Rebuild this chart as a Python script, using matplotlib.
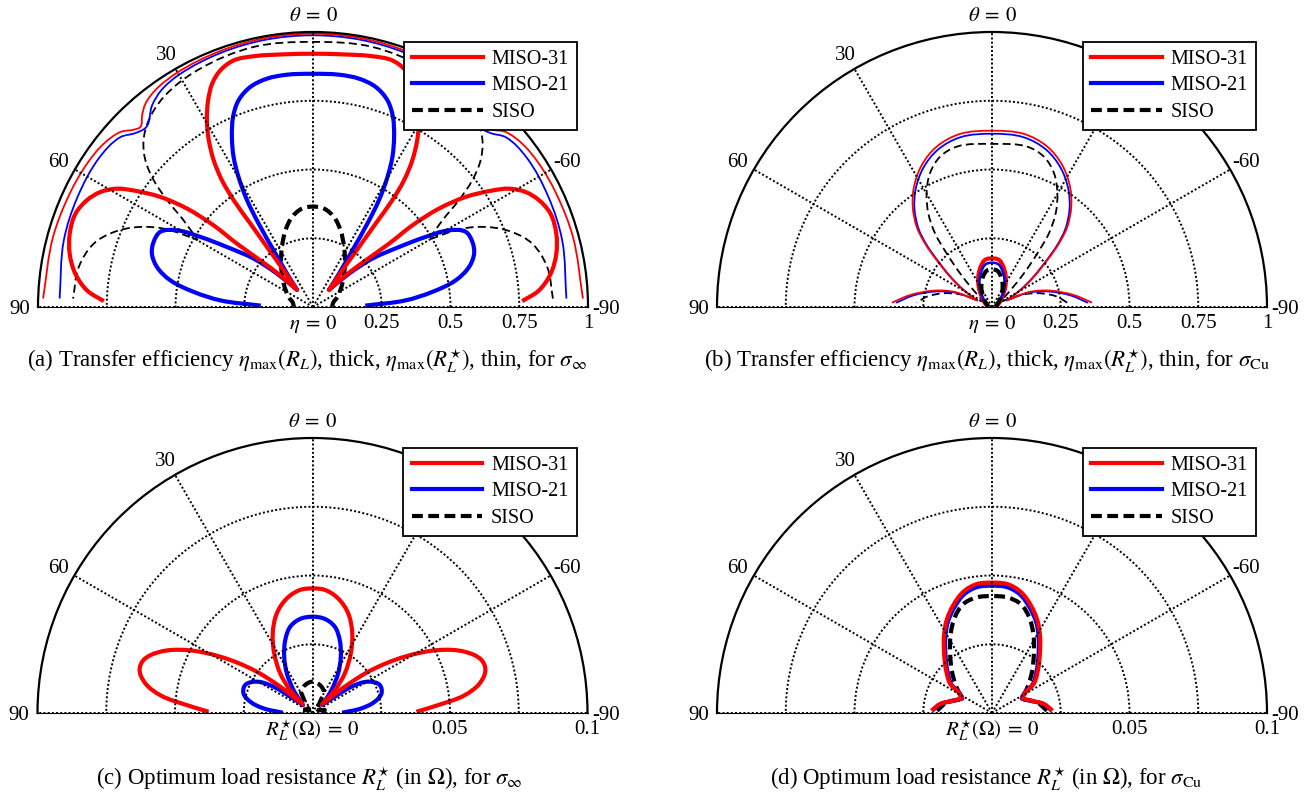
import numpy as np
import matplotlib
matplotlib.use('Agg')
import matplotlib.pyplot as plt
from matplotlib.transforms import offset_copy
from matplotlib.lines import Line2D
from matplotlib.path import Path
from matplotlib.patches import PathPatch

plt.rcParams['font.family'] = 'serif'
plt.rcParams['font.serif'] = ['Liberation Serif', 'DejaVu Serif']
plt.rcParams['mathtext.fontset'] = 'stix'

# ---------------- data: theta in degrees (0..90), curves symmetric in theta ----------------
# (a) transfer efficiency, sigma_inf
a_m31_th = [0, 5.9, 13.3, 17.8, 21.4, 24.3, 26.9, 29.6, 32.0, 34.1, 35.7, 36.6, 36.9, 37.5, 38.7, 41.0, 43.0,
            45.9, 48.5, 50.2, 50.6, 52.0, 54.2, 57.0, 58.9, 61.6, 64.7, 68.6, 73.2, 77.6, 82.0, 85.8, 88.4]
a_m31_r = [0.921, 0.924, 0.937, 0.942, 0.924, 0.891, 0.843, 0.781, 0.715, 0.644, 0.567, 0.483, 0.379, 0.275, 0.171, 0.11, 0.085,
           0.165, 0.256, 0.360, 0.468, 0.581, 0.684, 0.778, 0.833, 0.879, 0.909, 0.928, 0.924, 0.906, 0.873, 0.824, 0.761]
a_m21_th = [0, 6.4, 11.4, 15.9, 19.8, 22.8, 25.5, 27.9, 29.8, 31.7, 33.1, 34.8, 37.9, 43.0,
            47.2, 50.8, 55.1, 58.1, 60.6, 63.8, 67.8, 71.7, 75.6, 79.4, 82.8, 85.9, 88.5]
a_m21_r = [0.848, 0.850, 0.847, 0.832, 0.799, 0.750, 0.685, 0.617, 0.545, 0.456, 0.362, 0.251, 0.154, 0.085,
           0.178, 0.278, 0.381, 0.482, 0.568, 0.619, 0.626, 0.617, 0.586, 0.528, 0.437, 0.338, 0.190]
a_siso_th = [0, 6.4, 13.1, 19.8, 27.3, 36.4, 51.5, 67.7, 78, 89]
a_siso_r = [0.365, 0.360, 0.336, 0.296, 0.246, 0.196, 0.136, 0.096, 0.075, 0.07]
a_m31s_th = [0, 10, 20, 30, 36, 39.5, 41.7, 43.8, 45.3, 47.7, 52.0, 57.6, 65, 75, 88.2]
a_m31s_r = [0.994, 0.993, 0.990, 0.985, 0.975, 0.958, 0.934, 0.907, 0.917, 0.946, 0.965, 0.973, 0.976, 0.979, 0.982]
a_m21s_th = [0, 10, 20, 30, 35, 38.6, 42.8, 45.6, 48.6, 55, 65, 75, 88.1]
a_m21s_r = [0.988, 0.987, 0.983, 0.975, 0.962, 0.938, 0.892, 0.904, 0.934, 0.948, 0.945, 0.938, 0.922]
a_sisos_th = [0, 12.8, 26.1, 35.4, 41.4, 45.5, 48.8, 51.5, 53.8, 56.2, 59.8, 62.3, 65.6, 69.4, 73.9, 80.3, 88.0]
a_sisos_r = [0.964, 0.970, 0.958, 0.937, 0.904, 0.864, 0.810, 0.740, 0.657, 0.566, 0.486, 0.613, 0.703, 0.774, 0.830, 0.864, 0.873]

# (b) transfer efficiency, sigma_Cu
b_m31_th = [0, 8.5, 15.7, 24.3, 33.3, 45, 60, 75, 90]
b_m31_r = [0.177, 0.173, 0.152, 0.121, 0.088, 0.053, 0.030, 0.020, 0.015]
b_m21_th = [0, 8.5, 15.7, 24.3, 33.3, 45, 60, 75, 90]
b_m21_r = [0.161, 0.157, 0.138, 0.110, 0.080, 0.048, 0.027, 0.018, 0.013]
b_siso_th = [0, 8.5, 15.7, 24.3, 33.3, 45, 60, 75, 90]
b_siso_r = [0.137, 0.133, 0.117, 0.093, 0.068, 0.041, 0.023, 0.015, 0.011]
b_m31s_th = [0, 10.5, 19.0, 26.3, 33.0, 38.3, 43.2, 46.5, 49.7, 54.2, 59.3, 63.5, 66.0, 68.4, 74.4, 81.7, 87.5]
b_m31s_r = [0.641, 0.640, 0.617, 0.576, 0.521, 0.465, 0.400, 0.336, 0.264, 0.188, 0.121, 0.075, 0.06, 0.151, 0.221, 0.301, 0.364]
b_m21s_th = [0, 10.5, 19.0, 26.3, 33.0, 38.3, 43.2, 46.5, 49.7, 54.2, 59.3, 63.5, 66.0, 68.4, 74.4, 81.7, 87.5]
b_m21s_r = [0.630, 0.628, 0.605, 0.564, 0.510, 0.455, 0.390, 0.327, 0.256, 0.182, 0.116, 0.072, 0.058, 0.140, 0.210, 0.290, 0.349]
b_sisos_th = [0, 12.4, 19.1, 24.9, 29.9, 34.2, 37.7, 40.2, 43.5, 47.7, 56.0, 60.0, 65.0, 68.4, 74.3, 81.0, 86.7]
b_sisos_r = [0.593, 0.597, 0.578, 0.536, 0.477, 0.412, 0.339, 0.256, 0.169, 0.092, 0.045, 0.040, 0.075, 0.125, 0.184, 0.240, 0.274]

# (c) optimum load resistance (Ohm), sigma_inf
c_m31_th = [0, 5.7, 12.6, 19.7, 26.5, 32.7, 39.2, 44.2, 48.2, 50.8, 53.9, 58.6, 63.4, 68.1, 72.6, 76.0, 79.9, 83.3, 86.4, 89.3]
c_m31_r = [0.0453, 0.0450, 0.0427, 0.0385, 0.0324, 0.0258, 0.0186, 0.0117, 0.0047, 0.0152, 0.0265, 0.0393, 0.0511,
           0.0597, 0.0644, 0.0648, 0.0618, 0.0558, 0.0458, 0.0378]
c_m21_th = [0, 7.5, 14.5, 20.5, 26.7, 32.9, 39.6, 47.8, 49.5, 53.8, 56.0, 60.6, 67.4, 74.1, 79.7, 84.6, 89.4]
c_m21_r = [0.0350, 0.0345, 0.0324, 0.0283, 0.0229, 0.0172, 0.0108, 0.0052, 0.0045, 0.0100, 0.0171, 0.0232, 0.0265,
           0.0261, 0.0230, 0.0179, 0.0108]
c_siso_th = [0, 15, 28, 30.6, 40, 50, 60, 76, 89]
c_siso_r = [0.0114, 0.0105, 0.0088, 0.0069, 0.0030, 0.0015, 0.0020, 0.0046, 0.0040]

# (d) optimum load resistance (Ohm), sigma_Cu
d_m31_th = [0, 6.8, 13.3, 19.7, 26.0, 32.2, 38.8, 46.9, 54.8, 59.0, 64.2, 72.3, 80.2, 87.8]
d_m31_r = [0.0474, 0.0472, 0.0453, 0.0417, 0.0376, 0.0328, 0.0278, 0.0229, 0.0187, 0.0139, 0.0122, 0.0148, 0.0192, 0.0220]
d_m21_th = [0, 6.8, 13.3, 19.7, 26.0, 32.2, 38.8, 46.9, 54.8, 59.0, 64.2, 72.3, 80.2, 87.8]
d_m21_r = [0.0463, 0.0461, 0.0443, 0.0407, 0.0367, 0.0319, 0.0270, 0.0222, 0.0181, 0.0135, 0.0120, 0.0146, 0.0190, 0.0218]
d_siso_th = [0, 7.6, 14.7, 21.0, 27.4, 35.1, 43.2, 51.3, 60.6, 65.0, 77.0, 87.6]
d_siso_r = [0.0425, 0.0424, 0.0410, 0.0375, 0.0326, 0.0265, 0.0214, 0.0172, 0.0133, 0.0120, 0.0169, 0.0200]

legend_labels = ['MISO-31', 'MISO-21', 'SISO']
theta_ticks = [90, 60, 30, 0, -30, -60, -90]
theta_labels = ['90', '60', '30', r'$\theta\:=\:0$', '-30', '-60', '-90']
eta_ticks = [0, 0.25, 0.5, 0.75, 1]
eta_labels = [r'$\eta\:=\:0$', '0.25', '0.5', '0.75', '1']
res_ticks = [0, 0.05, 0.1]
res_labels = [r'$R_L^{\star}(\Omega)\:=\:0$', '0.05', '0.1']
captions = [r'(a) Transfer efficiency $\eta_{\max}(R_L)$, thick, $\eta_{\max}(R_L^{\star})$, thin, for $\sigma_{\infty}$',
            r'(b) Transfer efficiency $\eta_{\max}(R_L)$, thick, $\eta_{\max}(R_L^{\star})$, thin, for $\sigma_{\rm Cu}$',
            r'(c) Optimum load resistance $R_L^{\star}$ (in $\Omega$), for $\sigma_{\infty}$',
            r'(d) Optimum load resistance $R_L^{\star}$ (in $\Omega$), for $\sigma_{\rm Cu}$']

# ---------------- drawing ----------------
W, H = 1307, 796
fig = plt.figure(figsize=(W / 100, H / 100), dpi=100)
R = 275
centers = [(313, 307), (992, 307), (312.5, 713), (992, 713)]

THICK, THIN = 3.0, 1.3
DASH_THICK = (0, (2.6, 1.3))
DASH_THIN = (0, (4.4, 2.4))
GRID_LS = (0, (1, 1.15))


def full(th, r):
    """Symmetric curve over -90..90 deg from the 0..90 deg half."""
    th = np.asarray(th, float)
    r = np.asarray(r, float)
    t = np.concatenate([-th[::-1], th[1:]])
    rr = np.concatenate([r[::-1], r[1:]])
    return np.deg2rad(t), rr


def smooth_polar_path(theta, r, corner_cos=0.3):
    """Cubic Bezier path through the data points (smooth rendering, corners kept sharp)."""
    P = np.column_stack([r * np.sin(theta), r * np.cos(theta)])
    n = len(P)
    U = np.zeros_like(P)
    corner = np.zeros(n, bool)
    for i in range(n):
        if i == 0 or i == n - 1:
            corner[i] = True
            continue
        d1 = P[i] - P[i - 1]
        d2 = P[i + 1] - P[i]
        n1, n2 = np.hypot(*d1), np.hypot(*d2)
        if n1 == 0 or n2 == 0 or np.dot(d1, d2) / (n1 * n2) < corner_cos:
            corner[i] = True
            continue
        t = d1 / n1 + d2 / n2
        U[i] = t / np.hypot(*t)
    verts = [P[0]]
    codes = [Path.MOVETO]
    for i in range(n - 1):
        seg = P[i + 1] - P[i]
        L = np.hypot(*seg)
        u0 = seg / L if corner[i] else U[i]
        u1 = seg / L if corner[i + 1] else U[i + 1]
        verts += [P[i] + u0 * L / 3, P[i + 1] - u1 * L / 3, P[i + 1]]
        codes += [Path.CURVE4] * 3
    V = np.array(verts)
    th = np.arctan2(V[:, 0], V[:, 1])
    rr = np.hypot(V[:, 0], V[:, 1])
    return Path(np.column_stack([th, rr]), codes)


def curve(ax, th, r, color, lw, ls='-'):
    t, rr = full(th, r)
    patch = PathPatch(smooth_polar_path(t, rr), transform=ax.transData, fill=False,
                      edgecolor=color, linewidth=lw, linestyle=ls, capstyle='butt', joinstyle='round')
    ax.add_patch(patch)


def make_ax(cx, cy, rmax, rgrid, rticks, rlabels):
    # matplotlib pads the half-disc wedge to a square: square of side 2R, half-disc in its middle band
    left = cx - R
    bottom_px = cy + R / 2.0
    ax = fig.add_axes([left / W, 1 - bottom_px / H, 2 * R / W, 2 * R / H], projection='polar')
    ax.set_theta_zero_location('N')
    ax.set_theta_direction(1)
    ax.set_thetamin(-90)
    ax.set_thetamax(90)
    ax.set_ylim(0, rmax)
    ax.set_xticks(np.deg2rad([-90, -60, -30, 0, 30, 60, 90]))
    ax.set_yticks(rgrid)
    ax.set_xticklabels([])
    ax.set_yticklabels([])
    ax.tick_params(length=0)
    ax.grid(True, color='k', linestyle=GRID_LS, linewidth=1.4)
    for s in ['start', 'end', 'inner']:
        ax.spines[s].set_visible(False)
    ax.spines['polar'].set_linewidth(1.6)
    ax.patch.set_alpha(0)
    for a, lab in zip(theta_ticks, theta_labels):
        ax.text(np.deg2rad(a), 1.067 * rmax, lab, ha='center', va='center_baseline', fontsize=15)
    tr = offset_copy(ax.transData, fig=fig, x=0, y=-17, units='dots')
    for v, lab in zip(rticks, rlabels):
        ax.text(np.deg2rad(-90), v, lab, transform=tr, ha='center', va='center', fontsize=15)
    return ax


def add_legend(ax, cx, cy):
    handles = [Line2D([], [], color='r', lw=THICK),
               Line2D([], [], color='b', lw=THICK),
               Line2D([], [], color='k', lw=THICK, linestyle=DASH_THICK)]
    leg = ax.legend(handles, legend_labels, loc='upper right',
                    bbox_to_anchor=((cx + 264) / W, 1 - (cy - 265) / H),
                    bbox_transform=fig.transFigure, borderaxespad=0, fontsize=14.5,
                    frameon=True, fancybox=False, framealpha=1, edgecolor='k',
                    handlelength=3.5, handletextpad=0.45, labelspacing=0.36, borderpad=0.4)
    leg.get_frame().set_linewidth(1.3)
    leg.set_zorder(10)


# (a)
ax = make_ax(*centers[0], 1.0, [0.25, 0.5, 0.75], eta_ticks, eta_labels)
curve(ax, a_sisos_th, a_sisos_r, 'k', THIN, DASH_THIN)
curve(ax, a_m21s_th, a_m21s_r, 'b', THIN)
curve(ax, a_m31s_th, a_m31s_r, 'r', THIN)
curve(ax, a_siso_th, a_siso_r, 'k', THICK, DASH_THICK)
curve(ax, a_m21_th, a_m21_r, 'b', THICK)
curve(ax, a_m31_th, a_m31_r, 'r', THICK)
add_legend(ax, *centers[0])

# (b)
ax = make_ax(*centers[1], 1.0, [0.25, 0.5, 0.75], eta_ticks, eta_labels)
curve(ax, b_sisos_th, b_sisos_r, 'k', THIN, DASH_THIN)
curve(ax, b_m21s_th, b_m21s_r, 'b', THIN)
curve(ax, b_m31s_th, b_m31s_r, 'r', THIN)
curve(ax, b_m31_th, b_m31_r, 'r', THICK)
curve(ax, b_m21_th, b_m21_r, 'b', THICK * 0.6)
curve(ax, b_siso_th, b_siso_r, 'k', THICK, DASH_THICK)
add_legend(ax, *centers[1])

# (c)
ax = make_ax(*centers[2], 0.1, [0.025, 0.05, 0.075], res_ticks, res_labels)
curve(ax, c_siso_th, c_siso_r, 'k', THICK, DASH_THICK)
curve(ax, c_m21_th, c_m21_r, 'b', THICK)
curve(ax, c_m31_th, c_m31_r, 'r', THICK)
add_legend(ax, *centers[2])

# (d)
ax = make_ax(*centers[3], 0.1, [0.025, 0.05, 0.075], res_ticks, res_labels)
curve(ax, d_siso_th, d_siso_r, 'k', THICK, DASH_THICK)
curve(ax, d_m21_th, d_m21_r, 'b', THICK)
curve(ax, d_m31_th, d_m31_r, 'r', THICK)
add_legend(ax, *centers[3])

# captions
cap_pos = [(307, 367), (987, 367), (309, 785), (986, 785)]
for (x, y), txt in zip(cap_pos, captions):
    fig.text(x / W, 1 - y / H, txt, ha='center', va='baseline', fontsize=16.5)

fig.savefig('out.png', dpi=100)
